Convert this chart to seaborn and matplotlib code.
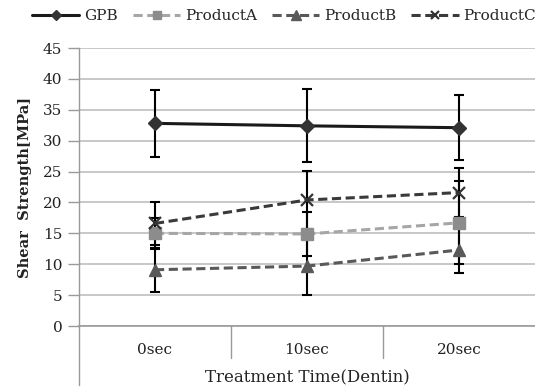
import numpy as np
import pandas as pd
import matplotlib
matplotlib.use("Agg")
import matplotlib.pyplot as plt
import seaborn as sns

# data
times = ["0sec", "10sec", "20sec"]
gpb = [32.8, 32.4, 32.1]
gpb_err = [5.4, 5.9, 5.3]
product_a = [15.0, 14.9, 16.7]
product_a_err = [2.5, 3.6, 6.7]
product_b = [9.1, 9.7, 12.3]
product_b_err = [3.6, 4.7, 3.7]
product_c = [16.6, 20.4, 21.6]
product_c_err = [3.5, 4.7, 4.0]

sns.set_style("white")
plt.rcParams["font.family"] = ["DejaVu Serif"]

fig = plt.figure(figsize=(5.35, 3.88), dpi=100)
ax = fig.add_axes([79 / 535, 62 / 388, 456 / 535, 278 / 388])

x = np.arange(len(times))
series = [
    ("GPB", gpb, gpb_err, "#1a1a1a", "#333333", "D", 7, (None, None)),
    ("ProductA", product_a, product_a_err, "#a6a6a6", "#8c8c8c", "s", 8.5, (3, 1.5)),
    ("ProductB", product_b, product_b_err, "#595959", "#595959", "^", 9, (3, 1.5)),
    ("ProductC", product_c, product_c_err, "#3a3a3a", "#333333", "x", 8, (3, 1.5)),
]

# error bars first, lines and markers on top
for name, vals, err, lc, mc, mk, ms, ds in series:
    ax.errorbar(x, vals, yerr=err, fmt="none", ecolor="black",
                elinewidth=1.5, capsize=3.3, capthick=1.5, zorder=2)

handles = []
for name, vals, err, lc, mc, mk, ms, ds in series:
    df = pd.DataFrame({"x": x, "y": vals})
    sns.lineplot(data=df, x="x", y="y", ax=ax, color=lc, linewidth=2.2,
                 marker=mk, markersize=ms, markerfacecolor=mc,
                 markeredgecolor=mc, markeredgewidth=1.6 if mk == "x" else 1,
                 zorder=3, label=name)
    line = ax.get_lines()[-1]
    if ds[0] is not None:
        line.set_dashes(ds)
    handles.append(line)

ax.set_xlim(-0.5, len(times) - 0.5)
ax.set_ylim(0, 45)
ax.set_yticks(np.arange(0, 46, 5))
ax.yaxis.grid(True, color="#bfbfbf", linewidth=1.2)
ax.xaxis.grid(False)
for s in ["top", "right"]:
    ax.spines[s].set_visible(False)
ax.spines["left"].set_color("#999999")
ax.spines["bottom"].set_color("#999999")
ax.spines["left"].set_linewidth(1)
ax.spines["bottom"].set_linewidth(1.2)

ax.set_xticks(x)
ax.set_xticklabels(times, fontsize=11, color="#222222")
ax.tick_params(axis="x", length=0, pad=12)
ax.tick_params(axis="y", left=True, length=8, color="#999999", width=1,
               labelsize=11, labelcolor="#222222", pad=4)

# category dividers below the axis
for b in x[:-1] + 0.5:
    ax.plot([b, b], [0, -5.2], color="#999999", lw=1, clip_on=False)
ax.plot([-0.5, -0.5], [0, -9.5], color="#999999", lw=1, clip_on=False)

ax.set_xlabel("Treatment Time(Dentin)", fontsize=12, color="#222222", labelpad=9)
ax.set_ylabel("Shear  Strength[MPa]", fontsize=10.5, fontweight="bold",
              color="#222222", labelpad=8)

ax.get_legend().remove()
fig.legend(handles=handles, labels=[s[0] for s in series], loc="center left",
           bbox_to_anchor=(32 / 535, 1 - 16 / 388), ncol=4, frameon=False,
           fontsize=11, handlelength=3.1, handletextpad=0.3, markerscale=0.75,
           columnspacing=1.0, borderaxespad=0, borderpad=0)

fig.savefig("out.png", dpi=100)
